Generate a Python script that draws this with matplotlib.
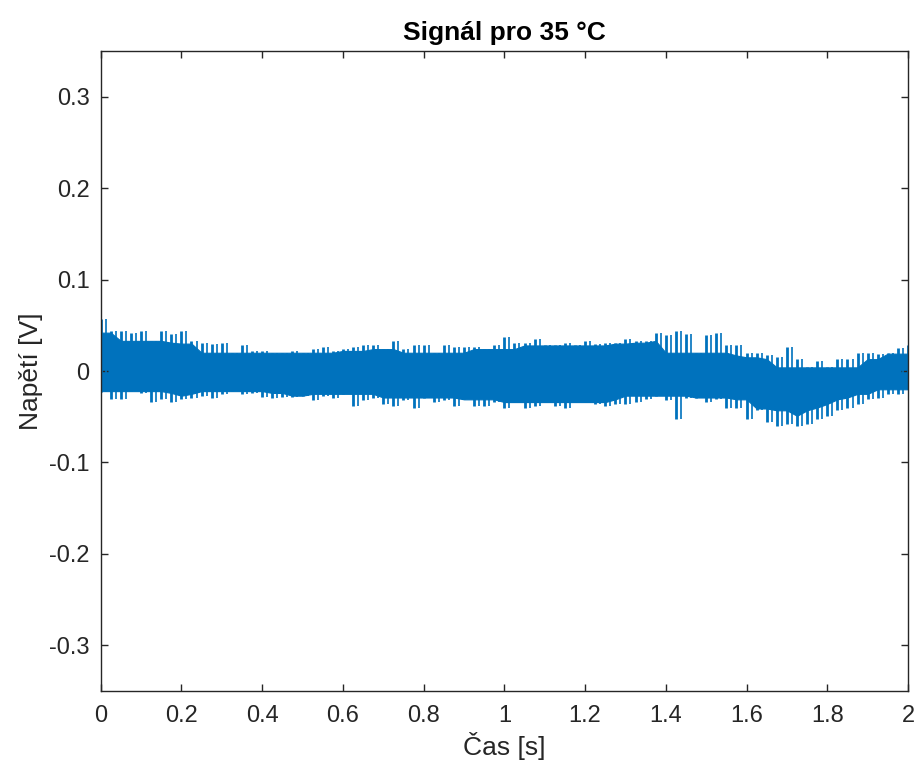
import numpy as np
import matplotlib
matplotlib.use("Agg")
import matplotlib.pyplot as plt

# time grid for the envelope readings (s)
time_s = np.round(np.arange(0, 2.0001, 0.025), 4)

# upper envelope of the signal (V), read every 0.025 s
upper_v = [0.057, 0.044, 0.044, 0.042, 0.044, 0.033, 0.044, 0.040, 0.044, 0.033,
           0.031, 0.030, 0.031, 0.020, 0.029, 0.022, 0.022, 0.020, 0.020, 0.022,
           0.020, 0.024, 0.026, 0.022, 0.024, 0.026, 0.028, 0.028, 0.024, 0.033,
           0.024, 0.029, 0.029, 0.020, 0.028, 0.026, 0.026, 0.026, 0.024, 0.028,
           0.037, 0.031, 0.031, 0.035, 0.028, 0.028, 0.031, 0.028, 0.033, 0.030,
           0.031, 0.031, 0.035, 0.033, 0.033, 0.042, 0.039, 0.044, 0.040, 0.020,
           0.039, 0.042, 0.028, 0.028, 0.020, 0.020, 0.017, 0.015, 0.026, 0.013,
           0.004, 0.011, 0.004, 0.013, 0.013, 0.020, 0.020, 0.019, 0.020, 0.025,
           0.028]

# lower envelope of the signal (V), read every 0.025 s
lower_v = [-0.023, -0.031, -0.031, -0.022, -0.024, -0.034, -0.031, -0.034, -0.031, -0.029,
           -0.027, -0.029, -0.025, -0.022, -0.025, -0.024, -0.028, -0.029, -0.028, -0.028,
           -0.027, -0.032, -0.027, -0.029, -0.025, -0.038, -0.032, -0.029, -0.036, -0.038,
           -0.032, -0.041, -0.029, -0.034, -0.032, -0.038, -0.031, -0.038, -0.038, -0.034,
           -0.040, -0.034, -0.041, -0.038, -0.034, -0.038, -0.041, -0.034, -0.034, -0.036,
           -0.038, -0.036, -0.036, -0.034, -0.031, -0.027, -0.032, -0.052, -0.029, -0.029,
           -0.034, -0.031, -0.041, -0.041, -0.052, -0.043, -0.056, -0.060, -0.058, -0.060,
           -0.058, -0.052, -0.049, -0.043, -0.040, -0.036, -0.031, -0.029, -0.025, -0.025,
           -0.020]

x_ticks = [0, 0.2, 0.4, 0.6, 0.8, 1, 1.2, 1.4, 1.6, 1.8, 2]
x_tick_labels = ["0", "0.2", "0.4", "0.6", "0.8", "1", "1.2", "1.4", "1.6", "1.8", "2"]
y_ticks = [-0.3, -0.2, -0.1, 0, 0.1, 0.2, 0.3]
y_tick_labels = ["-0.3", "-0.2", "-0.1", "0", "0.1", "0.2", "0.3"]

plt.rcParams['font.family'] = ['Liberation Sans', 'DejaVu Sans']

fig = plt.figure(figsize=(9.21, 7.74), dpi=100)
ax = fig.add_axes([0.1093, 0.1076, 0.8766, 0.8261])

line_color = '#0072BD'
up = np.array(upper_v)
lo = np.array(lower_v)
# solid core: the tightest of neighbouring readings
w = 3
pad_up = np.pad(up, w, mode='edge')
pad_lo = np.pad(lo, w, mode='edge')
n = len(up)
core_up = np.min([pad_up[k:k + n] for k in range(2 * w + 1)], axis=0)
core_lo = np.max([pad_lo[k:k + n] for k in range(2 * w + 1)], axis=0)
ax.fill_between(time_s, core_lo, core_up, color=line_color, linewidth=0.8,
                edgecolor=line_color)
# spikes
ax.vlines(time_s, lo, up, color=line_color, linewidth=2.0)
ax.vlines(time_s + 0.0125, lo, up, color=line_color, linewidth=1.2)

ax.set_xlim(0, 2)
ax.set_ylim(-0.35, 0.35)
ax.set_xticks(x_ticks)
ax.set_xticklabels(x_tick_labels)
ax.set_yticks(y_ticks)
ax.set_yticklabels(y_tick_labels)

grey = '#262626'
for sp in ax.spines.values():
    sp.set_color(grey)
    sp.set_linewidth(1.0)
ax.tick_params(direction='in', length=5, width=1.0, colors=grey, labelsize=17,
               top=True, right=True, pad=8)
ax.tick_params(axis='x', pad=10)

ax.set_xlabel('Čas [s]', fontsize=19, color=grey, labelpad=4)
ax.set_ylabel('Napětí [V]', fontsize=19, color=grey, labelpad=4)
ax.set_title('Signál pro 35 °C', fontsize=19, fontweight='bold', color='black', pad=8)

fig.savefig('out.png', dpi=100)
